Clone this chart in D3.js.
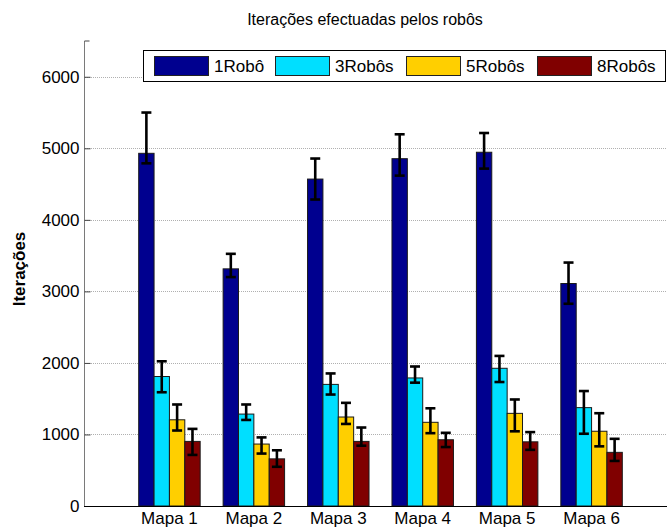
<!DOCTYPE html>
<html>
<head>
<meta charset="utf-8">
<script src="https://cdn.jsdelivr.net/npm/d3@7/dist/d3.min.js"></script>
<style>
  html, body { margin: 0; padding: 0; background: #fff; }
  svg { display: block; font-family: "Liberation Sans", Arial, Helvetica, sans-serif; }
</style>
</head>
<body>
<svg id="chart" width="667" height="528"></svg>
<script>
// Maps on the x axis
const categories = ["Mapa 1", "Mapa 2", "Mapa 3", "Mapa 4", "Mapa 5", "Mapa 6"];
// Robot-count series
const seriesNames = ["1Robô", "3Robôs", "5Robôs", "8Robôs"];
const seriesColors = ["#00008F", "#00DFFF", "#FFCF00", "#800000"];

// Mean iterations per map
const robo1 = [4930, 3315, 4570, 4855, 4945, 3110];
const robo3 = [1810, 1285, 1700, 1790, 1925, 1375];
const robo5 = [1205, 866, 1244, 1170, 1295, 1045];
const robo8 = [903, 659, 903, 926, 897, 750];

// Lower and upper ends of the error bars
const robo1Low = [4790, 3200, 4284, 4618, 4716, 2827];
const robo1High = [5500, 3525, 4857, 5196, 5214, 3403];
const robo3Low = [1590, 1203, 1558, 1724, 1733, 1010];
const robo3High = [2023, 1419, 1853, 1950, 2098, 1607];
const robo5Low = [1055, 733, 1147, 1018, 1044, 834];
const robo5High = [1419, 959, 1442, 1366, 1489, 1297];
const robo8Low = [714, 548, 843, 824, 785, 630];
const robo8High = [1078, 779, 1097, 1023, 1033, 939];

const yTicks = [0, 1000, 2000, 3000, 4000, 5000, 6000];

const values = [robo1, robo3, robo5, robo8];
const lows = [robo1Low, robo3Low, robo5Low, robo8Low];
const highs = [robo1High, robo3High, robo5High, robo8High];

const svg = d3.select("#chart");

const plotLeft = 85, plotRight = 676, plotTop = 41, plotBottom = 506;

const x = d3.scaleLinear().domain([0, categories.length + 1]).range([plotLeft, plotRight]);
const y = d3.scaleLinear().domain([0, 6500]).range([plotBottom, plotTop]);
const unit = x(1) - x(0);
const inner = d3.scaleBand().domain(seriesNames).range([-0.364 * unit, 0.364 * unit]);

// dotted horizontal grid
svg.append("g").selectAll("line")
  .data(yTicks.filter(t => t > 0))
  .join("line")
  .attr("x1", plotLeft).attr("x2", 667)
  .attr("y1", d => Math.round(y(d)) + 0.5).attr("y2", d => Math.round(y(d)) + 0.5)
  .attr("stroke", "#b0b0b0").attr("stroke-width", 1)
  .attr("stroke-dasharray", "1,1");

// bars
const flat = [];
seriesNames.forEach((s, si) => {
  categories.forEach((c, ci) => {
    flat.push({ s, si, ci, v: values[si][ci], lo: lows[si][ci], hi: highs[si][ci] });
  });
});

svg.append("g").selectAll("rect")
  .data(flat)
  .join("rect")
  .attr("x", d => x(d.ci + 1) + inner(d.s))
  .attr("width", inner.bandwidth())
  .attr("y", d => y(d.v))
  .attr("height", d => y(0) - y(d.v))
  .attr("fill", d => seriesColors[d.si])
  .attr("stroke", "#1a1a1a").attr("stroke-width", 1);

// error bars
const eb = svg.append("g").attr("stroke", "#000").attr("stroke-width", 2.6);
flat.forEach(d => {
  const cx = x(d.ci + 1) + inner(d.s) + inner.bandwidth() / 2;
  eb.append("line").attr("x1", cx).attr("x2", cx).attr("y1", y(d.lo)).attr("y2", y(d.hi));
  eb.append("line").attr("x1", cx - 5).attr("x2", cx + 5).attr("y1", y(d.lo)).attr("y2", y(d.lo));
  eb.append("line").attr("x1", cx - 5).attr("x2", cx + 5).attr("y1", y(d.hi)).attr("y2", y(d.hi));
});

// y axis
const yAxis = d3.axisLeft(y).tickValues(yTicks).tickSizeInner(-6).tickSizeOuter(0).tickPadding(5)
  .tickFormat(d3.format("d"));
const ya = svg.append("g").attr("transform", `translate(${plotLeft - 0.5},0)`).call(yAxis);
ya.select(".domain").attr("stroke", "#7a7a7a").attr("d", `M0,${plotTop}V${plotBottom}`);
ya.selectAll(".tick line").attr("stroke", "#444");
ya.selectAll(".tick text").attr("font-size", 17).attr("fill", "#000")
  .attr("font-family", "Liberation Sans, Arial, sans-serif");
ya.append("line").attr("x1", 0).attr("x2", 5).attr("y1", plotTop).attr("y2", plotTop).attr("stroke", "#444");

// x axis baseline and labels
svg.append("line").attr("x1", plotLeft - 1).attr("x2", 667)
  .attr("y1", plotBottom + 0.5).attr("y2", plotBottom + 0.5)
  .attr("stroke", "#000").attr("stroke-width", 1.2);
svg.append("g").selectAll("text")
  .data(categories)
  .join("text")
  .attr("x", (d, i) => x(i + 1))
  .attr("y", 523.5)
  .attr("text-anchor", "middle")
  .attr("font-size", 17)
  .text(d => d);

// title and y label
svg.append("text").attr("x", 365).attr("y", 25).attr("text-anchor", "middle")
  .attr("font-size", 16).text("Iterações efectuadas pelos robôs");
svg.append("text").attr("transform", "translate(25,269) rotate(-90)")
  .attr("text-anchor", "middle").attr("font-size", 17).attr("font-weight", "bold")
  .text("Iterações");

// legend
const lg = svg.append("g");
lg.append("rect").attr("x", 143.5).attr("y", 50.5).attr("width", 522).attr("height", 31)
  .attr("fill", "#fff").attr("stroke", "#000").attr("stroke-width", 1);
const swatchX = [154, 275, 406, 537];
seriesNames.forEach((s, i) => {
  lg.append("rect").attr("x", swatchX[i] + 0.5).attr("y", 56.5).attr("width", 54).attr("height", 19)
    .attr("fill", seriesColors[i]).attr("stroke", "#222");
  lg.append("text").attr("x", swatchX[i] + 60).attr("y", 72).attr("font-size", 17).text(s);
});
</script>
</body>
</html>
